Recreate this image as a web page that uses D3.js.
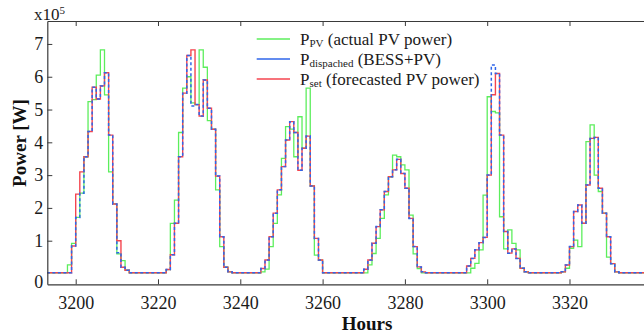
<!DOCTYPE html>
<html><head><meta charset="utf-8">
<script src="https://cdn.jsdelivr.net/npm/d3@7"></script>
<style>
html,body{margin:0;padding:0;background:#fff;}
svg{display:block;font-family:"Liberation Serif","Times New Roman",serif;}
</style></head>
<body>
<svg id="chart" width="644" height="333"></svg>
<script>
// ---- data (power in units of 1e5 W), hourly from startHour ----
const startHour = 3193;
const xTickValues = [3200, 3220, 3240, 3260, 3280, 3300, 3320];
const yTickValues = [1, 2, 3, 4, 5, 6, 7];

const pvActual = [
  0.02,0.02,0.02,0.02,0.02,
  0.26,0.92,1.71,2.45,3.56,5.24,5.30,6.05,6.82,5.45,3.10,2.12,0.60,0.39,0.10,
  0.02,0.02,0.02,0.02,0.02,0.02,0.02,0.02,0.02,
  0.12,1.53,2.24,4.30,5.65,6.00,5.20,5.15,6.82,6.29,4.66,4.40,2.55,0.82,0.19,0.05,
  0.02,0.02,0.02,0.02,0.02,0.02,0.02,
  0.05,0.13,0.82,1.53,2.40,3.51,4.48,4.40,3.56,4.78,3.82,5.65,2.67,0.56,0.41,
  0.02,0.02,0.02,0.02,0.02,0.02,0.02,0.02,0.02,0.02,
  0.02,0.26,0.61,1.07,1.68,2.40,2.95,3.61,3.56,3.31,3.16,1.78,0.60,0.15,0.02,
  0.02,0.02,0.02,0.02,0.02,0.02,0.02,0.02,0.02,0.02,
  0.02,0.16,0.31,0.72,2.39,5.39,4.94,4.90,1.73,0.75,1.33,0.92,0.72,0.16,0.05,
  0.02,0.02,0.02,0.02,0.02,0.02,0.02,0.02,
  0.05,0.16,0.77,1.02,0.82,1.53,4.02,4.53,3.00,2.50,1.84,0.50,0.30,0.05,
  0.02,0.02,0.02,0.02,0.02,0.02,0.02
];

const pSet = [
  0.02,0.02,0.02,0.02,0.02,
  0.02,0.84,2.42,3.10,3.56,4.33,5.68,5.32,5.72,6.12,4.22,2.12,1.00,0.19,0.10,
  0.02,0.02,0.02,0.02,0.02,0.02,0.02,0.02,0.02,
  0.12,0.57,1.53,3.56,5.50,6.65,6.82,5.15,4.80,5.90,5.04,4.40,2.97,1.12,0.19,0.05,
  0.02,0.02,0.02,0.02,0.02,0.02,0.02,
  0.15,0.41,1.12,1.84,2.55,3.26,4.07,4.63,4.30,3.15,3.82,4.19,2.67,1.07,0.41,
  0.02,0.02,0.02,0.02,0.02,0.02,0.02,0.02,0.02,0.02,
  0.13,0.41,0.92,1.43,1.94,2.50,2.95,3.16,3.48,3.05,2.60,1.68,0.82,0.20,0.05,
  0.02,0.02,0.02,0.02,0.02,0.02,0.02,0.02,0.02,0.02,
  0.23,0.46,0.72,0.94,1.10,3.00,5.45,6.10,4.22,1.28,0.62,0.75,0.46,0.16,0.05,
  0.02,0.02,0.02,0.02,0.02,0.02,0.02,0.02,
  0.05,0.26,0.82,1.89,2.09,1.53,2.70,4.12,4.15,2.60,1.84,1.12,0.30,0.05,
  0.02,0.02,0.02,0.02,0.02,0.02,0.02
];

const pDispatched = [
  0.02,0.02,0.02,0.02,0.02,
  0.02,0.84,1.71,2.45,3.56,4.33,5.68,5.32,5.72,6.12,4.22,2.12,0.63,0.19,0.10,
  0.02,0.02,0.02,0.02,0.02,0.02,0.02,0.02,0.02,
  0.12,0.57,1.53,3.56,5.50,6.65,5.11,5.15,4.80,5.90,5.04,4.40,2.97,1.12,0.19,0.05,
  0.02,0.02,0.02,0.02,0.02,0.02,0.02,
  0.15,0.41,1.12,1.84,2.55,3.26,4.07,4.63,4.30,3.15,3.82,4.19,2.67,1.07,0.41,
  0.02,0.02,0.02,0.02,0.02,0.02,0.02,0.02,0.02,0.02,
  0.13,0.41,0.92,1.43,1.94,2.50,2.95,3.16,3.48,3.05,2.60,1.68,0.82,0.20,0.05,
  0.02,0.02,0.02,0.02,0.02,0.02,0.02,0.02,0.02,0.02,
  0.23,0.46,0.72,0.94,1.10,3.00,6.36,6.10,4.22,1.28,0.62,0.75,0.46,0.16,0.05,
  0.02,0.02,0.02,0.02,0.02,0.02,0.02,0.02,
  0.05,0.26,0.82,1.89,2.09,1.53,2.70,4.12,4.15,2.60,1.84,1.12,0.30,0.05,
  0.02,0.02,0.02,0.02,0.02,0.02,0.02
];

const seriesNames = [
  {sub: "PV", rest: " (actual PV power)"},
  {sub: "dispached", rest: " (BESS+PV)"},
  {sub: "set", rest: " (forecasted PV power)"}
];

// ---- drawing ----
(function () {
const svg = d3.select("#chart");
const pLeft = 47.3, pTop = 21, pBottom = 284.3, pRight = 651.8;

const x = d3.scaleLinear().domain([3193.1, 3340]).range([pLeft, pRight]);
const y = d3.scaleLinear().domain([-0.33, 7.70]).range([pBottom, pTop]);

const axisColor = "#3a3a3a";
const colors = {pv: "#5cee5c", disp: "#2f66ea", set: "#f4454f"};

function toPoints(arr) {
  const pts = arr.map((v, i) => ({h: startHour + i, v}));
  pts.push({h: startHour + arr.length, v: arr[arr.length - 1]});
  return pts;
}
const line = d3.line().x(d => x(d.h)).y(d => y(d.v)).curve(d3.curveStepAfter);

svg.append("defs").append("clipPath").attr("id", "clip")
  .append("rect").attr("x", pLeft).attr("y", pTop).attr("width", pRight - pLeft).attr("height", pBottom - pTop);

const plot = svg.append("g").attr("clip-path", "url(#clip)");
plot.append("path").attr("d", line(toPoints(pvActual)))
  .attr("fill", "none").attr("stroke", colors.pv).attr("stroke-width", 1.3);
plot.append("path").attr("d", line(toPoints(pSet)))
  .attr("fill", "none").attr("stroke", colors.set).attr("stroke-width", 1.4);
plot.append("path").attr("d", line(toPoints(pDispatched)))
  .attr("fill", "none").attr("stroke", colors.disp).attr("stroke-width", 1.5)
  .attr("stroke-dasharray", "3,2.5");

// axes
const xAxis = svg.append("g").attr("transform", `translate(0,${pBottom})`)
  .call(d3.axisBottom(x).tickValues(xTickValues).tickSizeInner(-5).tickSizeOuter(0).tickPadding(12).tickFormat(d3.format("d")));
const xTop = svg.append("g").attr("transform", `translate(0,${pTop})`)
  .call(d3.axisTop(x).tickValues(xTickValues).tickSizeInner(-5).tickSizeOuter(0).tickFormat(""));
const yAxis = svg.append("g").attr("transform", `translate(${pLeft},0)`)
  .call(d3.axisLeft(y).tickValues([-0.33].concat(yTickValues)).tickSizeInner(-5).tickSizeOuter(0).tickPadding(4)
    .tickFormat(d => d < 0 ? "0" : d));
yAxis.selectAll(".tick").filter(d => d < 0).select("text").attr("dy", "0.15em");
yAxis.selectAll(".tick").filter(d => d < 0).select("line").remove();

[xAxis, xTop, yAxis].forEach(g => {
  g.selectAll(".domain").attr("stroke", axisColor).attr("stroke-width", 1.2);
  g.selectAll(".tick line").attr("stroke", axisColor);
  g.selectAll(".tick text").attr("fill", "#1a1a1a").style("font-size", "18px")
    .style("font-family", '"Liberation Serif","Times New Roman",serif');
});

// axis titles
svg.append("text").attr("x", 367).attr("y", 330).attr("text-anchor", "middle")
  .style("font-size", "19px").style("font-weight", "bold").attr("fill", "#111").text("Hours");
svg.append("text").attr("transform", "translate(25.5,143) rotate(-90)").attr("text-anchor", "middle")
  .style("font-size", "19px").style("font-weight", "bold").attr("fill", "#111").text("Power [W]");

const ex = svg.append("text").attr("x", 34).attr("y", 20).style("font-size", "17px").attr("fill", "#1a1a1a");
ex.append("tspan").text("x10");
ex.append("tspan").attr("dy", -6).style("font-size", "11px").text("5");

// legend
const legendColors = [colors.pv, colors.disp, colors.set];
const lg = svg.append("g");
seriesNames.forEach((s, i) => {
  const ly = 39 + i * 20;
  lg.append("line").attr("x1", 256.7).attr("x2", 290).attr("y1", ly).attr("y2", ly)
    .attr("stroke", legendColors[i]).attr("stroke-width", 1.5);
  const t = lg.append("text").attr("x", 300).attr("y", ly + 6).style("font-size", "17px").attr("fill", "#1a1a1a");
  t.append("tspan").text("P");
  t.append("tspan").attr("dy", 2).style("font-size", "11px").text(s.sub);
  t.append("tspan").attr("dy", -2).text(s.rest);
});
})();
</script>
</body></html>
